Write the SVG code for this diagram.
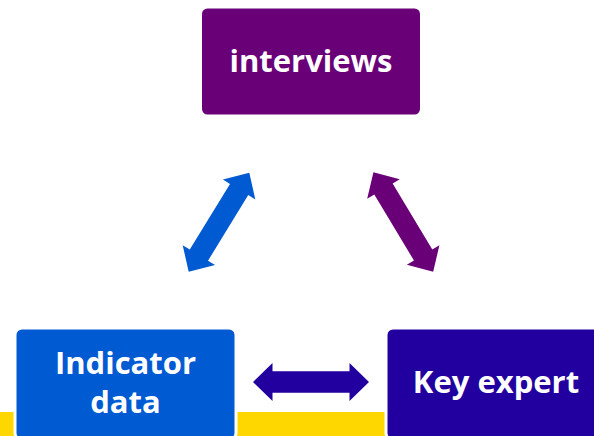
<svg xmlns="http://www.w3.org/2000/svg" width="594" height="436" viewBox="0 0 594 436">
<style>
.box{stroke:#ffffff;stroke-width:3}
.lbl{font-family:"Open Sans","Liberation Sans",sans-serif;font-weight:bold;font-size:31px;fill:#ffffff;text-anchor:middle}
</style>
<defs>
<path id="dbl" d="M-58,0 L-38.5,-19 L-38.5,-10.7 L38.5,-10.7 L38.5,-19 L58,0 L38.5,19 L38.5,10.7 L-38.5,10.7 L-38.5,19 Z"/>
</defs>
<rect width="594" height="436" fill="#ffffff"/>
<rect x="0" y="412" width="594" height="24" fill="#ffd700"/>
<g id="connectors">
<use href="#dbl" fill="#005ad2" transform="translate(219,222.3) rotate(-58.5)"/>
<use href="#dbl" fill="#690078" transform="translate(403.3,222) rotate(59)"/>
<use href="#dbl" fill="#22009f" transform="translate(311,382)"/>
</g>
<g id="interviews">
<rect class="box" x="200.5" y="7" width="221" height="109" rx="7" fill="#690078"/>
<text class="lbl" x="311" y="72">interviews</text>
</g>
<g id="indicator-data">
<rect class="box" x="15" y="328" width="221" height="112" rx="7" fill="#005ad2"/>
<text class="lbl" x="125.5" y="374">Indicator</text>
<text class="lbl" x="125.5" y="413">data</text>
</g>
<g id="key-expert">
<rect class="box" x="386" y="328" width="221" height="112" rx="7" fill="#22009f"/>
<text class="lbl" x="496" y="393">Key expert</text>
</g>
</svg>
